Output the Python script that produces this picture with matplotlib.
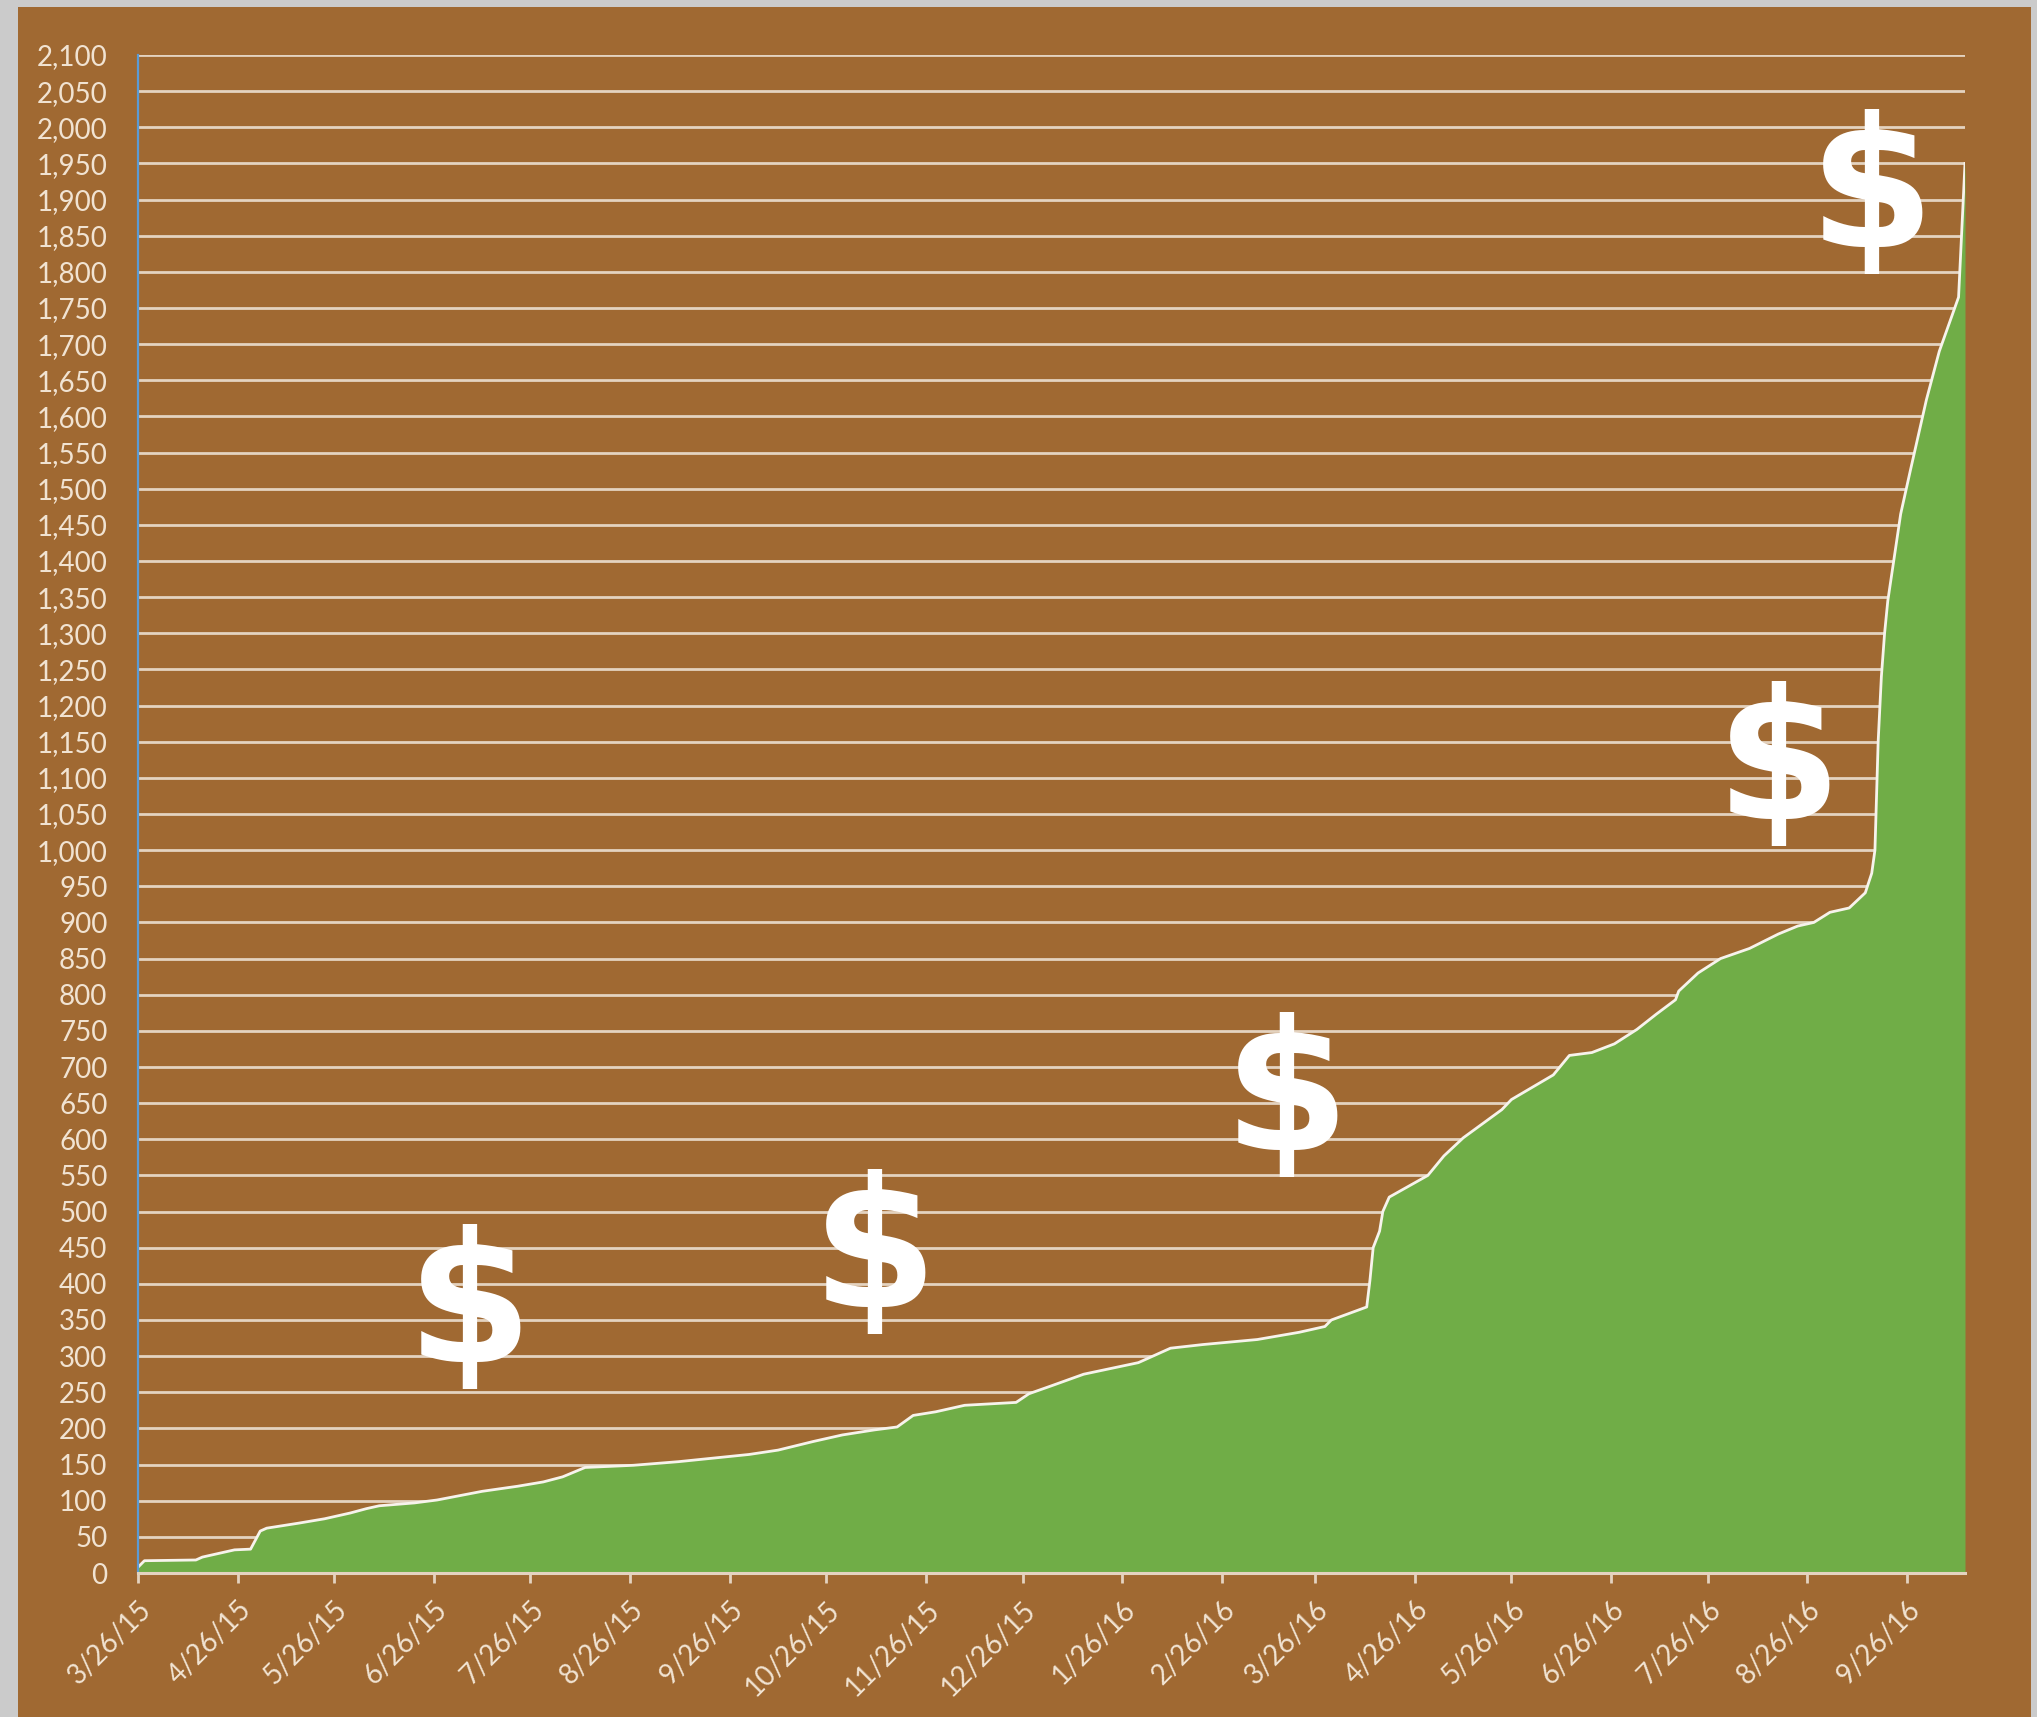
import matplotlib
matplotlib.use("Agg")
import matplotlib.pyplot as plt
import matplotlib.dates as mdates
from matplotlib.patches import Rectangle
from matplotlib.ticker import MultipleLocator, FuncFormatter
import pandas as pd

# Cumulative total by date
dates = [
    "2015-03-26", "2015-03-28", "2015-04-13", "2015-04-15", "2015-04-20",
    "2015-04-25", "2015-04-30", "2015-05-03", "2015-05-05", "2015-05-15",
    "2015-05-23", "2015-05-31", "2015-06-05", "2015-06-09", "2015-06-20",
    "2015-06-27", "2015-07-04", "2015-07-11", "2015-07-22", "2015-07-30",
    "2015-08-05", "2015-08-12", "2015-08-27", "2015-09-10", "2015-09-21",
    "2015-10-02", "2015-10-11", "2015-10-22", "2015-10-31", "2015-11-10",
    "2015-11-17", "2015-11-22", "2015-11-29", "2015-12-08", "2015-12-24",
    "2015-12-28", "2016-01-04", "2016-01-14", "2016-01-31", "2016-02-10",
    "2016-02-20", "2016-03-08", "2016-03-21", "2016-03-29", "2016-03-31",
    "2016-04-11", "2016-04-12", "2016-04-13", "2016-04-15", "2016-04-16",
    "2016-04-18", "2016-04-22", "2016-04-30", "2016-05-05", "2016-05-11",
    "2016-05-23", "2016-05-26", "2016-06-08", "2016-06-13", "2016-06-20",
    "2016-06-27", "2016-07-04", "2016-07-10", "2016-07-16", "2016-07-17",
    "2016-07-23", "2016-07-30", "2016-08-08", "2016-08-17", "2016-08-23",
    "2016-08-28", "2016-09-02", "2016-09-08", "2016-09-13", "2016-09-15",
    "2016-09-16", "2016-09-17", "2016-09-18", "2016-09-19", "2016-09-20",
    "2016-09-22", "2016-09-24", "2016-09-27", "2016-10-02", "2016-10-06",
    "2016-10-12", "2016-10-14",
]
totals = [
    8, 17, 18, 22, 27,
    32, 33, 58, 62, 69,
    75, 83, 89, 93, 97,
    101, 107, 113, 120, 126,
    133, 146, 149, 154, 159,
    164, 170, 182, 191, 198,
    202, 218, 223, 232, 236,
    248, 259, 275, 291, 311,
    316, 323, 333, 341, 350,
    368, 405, 450, 473, 500,
    520, 530, 550, 577, 602,
    641, 655, 689, 716, 720,
    732, 752, 773, 793, 805,
    830, 850, 864, 884, 895,
    900, 914, 920, 941, 968,
    1000, 1150, 1240, 1300, 1345,
    1405, 1465, 1525, 1623, 1690,
    1765, 1950,
]

tick_labels = [
    "3/26/15", "4/26/15", "5/26/15", "6/26/15", "7/26/15", "8/26/15",
    "9/26/15", "10/26/15", "11/26/15", "12/26/15", "1/26/16", "2/26/16",
    "3/26/16", "4/26/16", "5/26/16", "6/26/16", "7/26/16", "8/26/16",
    "9/26/16",
]

# Dollar-sign decorations (date, value)
dollar_dates = ["2015-07-07", "2015-11-10", "2016-03-17", "2016-08-17", "2016-09-15"]
dollar_values = [361, 437, 654, 1112, 1904]

BROWN = "#A06932"
GREEN = "#70AD47"
GRID = "#E4D3C0"
LABEL = "#F1E3D2"

W, H = 2037, 1717
fig = plt.figure(figsize=(W / 100, H / 100), dpi=100)
fig.patch.set_facecolor("#cbcbcb")
fig.patches.append(Rectangle((18 / W, 0), (2031 - 18) / W, (H - 7) / H,
                             transform=fig.transFigure, facecolor=BROWN,
                             edgecolor="none", zorder=-10))

ax = fig.add_axes([138 / W, 1 - 1573 / H, (1965 - 138) / W, (1573 - 55) / H])
ax.set_facecolor(BROWN)

x = pd.to_datetime(dates)
ax.fill_between(x, totals, 0, color=GREEN, lw=0, zorder=2)
ax.plot(x, totals, color="#F7F3EC", lw=2.0, zorder=3, solid_joinstyle="round")

ax.set_ylim(0, 2100)
ax.set_xlim(x[0], x[-1])
ax.yaxis.set_major_locator(MultipleLocator(50))
ax.yaxis.set_major_formatter(FuncFormatter(lambda v, p: f"{int(v):,}"))
ax.grid(axis="y", color=GRID, lw=2.0, zorder=1)
ax.grid(axis="x", visible=False)
ax.set_axisbelow(True)

tick_dates = pd.to_datetime(tick_labels, format="%m/%d/%y")
ax.set_xticks(tick_dates)
ax.set_xticklabels(tick_labels, rotation=45, ha="right", rotation_mode="anchor")

font = ["Lato", "DejaVu Sans"]
for lab in ax.get_xticklabels() + ax.get_yticklabels():
    lab.set_family(font)
    lab.set_fontsize(20)
    lab.set_color(LABEL)

ax.tick_params(axis="y", length=0, pad=22)
ax.tick_params(axis="x", length=7, width=2, color=GRID, pad=10, direction="out")

for s in ("top", "right"):
    ax.spines[s].set_visible(False)
ax.spines["left"].set_color("#5B9BD5")
ax.spines["left"].set_linewidth(1.6)
ax.spines["left"].set_zorder(4)
ax.spines["bottom"].set_color(GRID)
ax.spines["bottom"].set_linewidth(2.2)
ax.spines["bottom"].set_zorder(4)

for d, v in zip(pd.to_datetime(dollar_dates), dollar_values):
    ax.text(d, v, "$", color="white", fontsize=130, fontweight="bold",
            family="DejaVu Sans", ha="center", va="center", zorder=5)

fig.savefig("out.png", dpi=100, facecolor=fig.get_facecolor())
